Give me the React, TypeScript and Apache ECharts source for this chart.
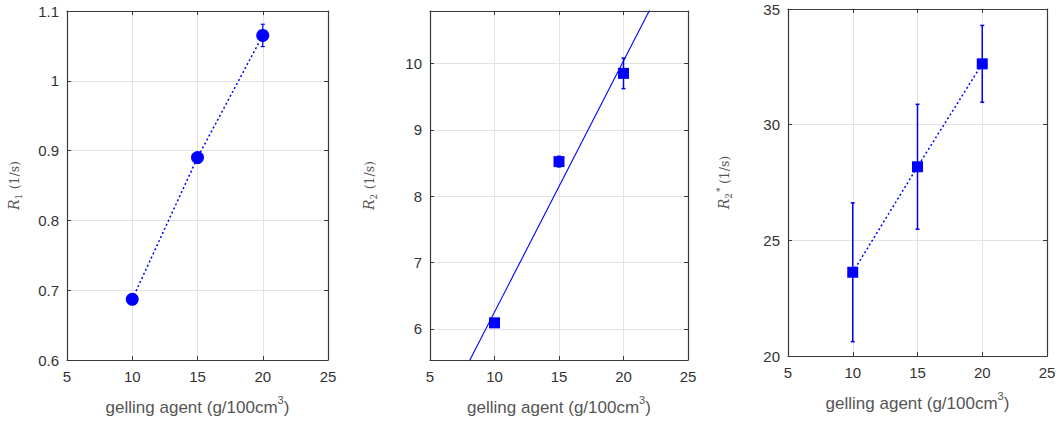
import React, { useEffect, useRef } from "react";
import * as echarts from "echarts";

const xValues = [10, 15, 20];
const xTicks = [5, 25, 5]; // min, max, interval

const r1Values = [0.687, 0.89, 1.065];
const r1Errors = [0.004, 0.005, 0.016];

const r2Values = [6.09, 8.52, 9.85];
const r2Errors = [0.02, 0.08, 0.23];
const r2FitLine = [
  [5, 4.36],
  [25, 11.93],
];

const r2StarValues = [23.62, 28.18, 32.63];
const r2StarErrors = [3.0, 2.7, 1.66];

const BLUE = "#0000ff";
const TICK_FONT = "'Liberation Sans', Arial, sans-serif";

const grids = [
  { left: 67, top: 11, width: 261, height: 350 },
  { left: 430, top: 11, width: 258, height: 349 },
  { left: 788, top: 9, width: 259, height: 347 },
];

function pairs(ys: number[]) {
  return xValues.map((x, i) => [x, ys[i]]);
}
function errData(ys: number[], es: number[]) {
  return xValues.map((x, i) => [x, ys[i] - es[i], ys[i] + es[i]]);
}

function errorSeries(idx: number, ys: number[], es: number[], cap: number, lw: number) {
  return {
    type: "custom",
    xAxisIndex: idx * 2,
    yAxisIndex: idx * 2,
    z: 1,
    data: errData(ys, es),
    renderItem: (params: any, api: any) => {
      const lo = api.coord([api.value(0), api.value(1)]);
      const hi = api.coord([api.value(0), api.value(2)]);
      const style = { stroke: BLUE, lineWidth: lw };
      return {
        type: "group",
        children: [
          { type: "line", shape: { x1: lo[0], y1: lo[1], x2: hi[0], y2: hi[1] }, style },
          { type: "line", shape: { x1: lo[0] - cap, y1: lo[1], x2: lo[0] + cap, y2: lo[1] }, style },
          { type: "line", shape: { x1: hi[0] - cap, y1: hi[1], x2: hi[0] + cap, y2: hi[1] }, style },
        ],
      };
    },
  };
}

const nameRich = {
  r: { fontFamily: "'DejaVu Serif', 'Liberation Serif', serif", fontStyle: "italic", fontSize: 14, color: "#555", lineHeight: 18, verticalAlign: "middle" },
  sub: { fontFamily: "'DejaVu Serif', serif", fontSize: 9, color: "#555", lineHeight: 18, verticalAlign: "bottom", padding: [0, 1, 0, 0] },
  sup: { fontFamily: "'DejaVu Serif', serif", fontSize: 9, color: "#555", lineHeight: 18, verticalAlign: "top" },
  u: { fontFamily: "'DejaVu Serif', 'Liberation Serif', serif", fontSize: 12.5, color: "#555", lineHeight: 18, verticalAlign: "middle" },
};

const xNameRich = {
  t: { fontFamily: TICK_FONT, fontSize: 17, color: "#555", lineHeight: 22, verticalAlign: "bottom" },
  s: { fontFamily: TICK_FONT, fontSize: 11, color: "#555", lineHeight: 22, verticalAlign: "top" },
};

export default function App() {
  const ref = useRef<HTMLDivElement>(null);
  useEffect(() => {
    if (!ref.current) return;
    const chart = echarts.init(ref.current, undefined, { renderer: "svg" });

    const axisLine = { show: true, lineStyle: { color: "#3a3a3a", width: 1.2 } };
    const axisTick = { show: true, inside: true, length: 4, lineStyle: { color: "#3a3a3a" } };
    const splitLine = { show: true, lineStyle: { color: "#e3e3e3", width: 1 } };
    const axisLabelBase = { color: "#333", fontSize: 15, fontFamily: TICK_FONT };

    const xAxes: any[] = [];
    const yAxes: any[] = [];
    const yConf = [
      { min: 0.6, max: 1.1, interval: 0.1, name: "{r|R}{sub|1} {u|(1/s)}", gap: 44 },
      { min: 5.53, max: 10.79, interval: undefined, name: "{r|R}{sub|2} {u|(1/s)}", gap: 52 },
      { min: 20, max: 35, interval: 5, name: "{r|R}{sub|2}{sup|*} {u|(1/s)}", gap: 55 },
    ];
    grids.forEach((g, i) => {
      xAxes.push({
        type: "value",
        gridIndex: i,
        position: "bottom",
        min: xTicks[0],
        max: xTicks[1],
        interval: xTicks[2],
        axisLine,
        axisTick,
        splitLine,
        axisLabel: { ...axisLabelBase, margin: 9 },
        name: "{t|gelling agent (g/100cm}{s|3}{t|)}",
        nameLocation: "middle",
        nameGap: 34,
        nameTextStyle: { rich: xNameRich },
      });
      xAxes.push({
        type: "value",
        gridIndex: i,
        position: "top",
        min: xTicks[0],
        max: xTicks[1],
        interval: xTicks[2],
        axisLine,
        axisTick,
        splitLine: { show: false },
        axisLabel: { show: false },
      });
      const yc = yConf[i];
      const yBase: any = {
        type: "value",
        gridIndex: i,
        min: yc.min,
        max: yc.max,
      };
      if (yc.interval !== undefined) yBase.interval = yc.interval;
      else yBase.splitNumber = 5;
      yAxes.push({
        ...yBase,
        position: "left",
        axisLine,
        axisTick,
        splitLine,
        axisLabel: {
          ...axisLabelBase,
          margin: 8,
          showMinLabel: yc.interval !== undefined,
          showMaxLabel: yc.interval !== undefined,
          formatter: (v: number) => {
            if (yc.interval === undefined && Math.abs(v - Math.round(v)) > 1e-6) return "";
            return String(Math.round(v * 1000) / 1000);
          },
        },
        name: yc.name,
        nameLocation: "middle",
        nameRotate: 90,
        nameGap: yc.gap,
        nameTextStyle: { rich: nameRich },
      });
      yAxes.push({
        ...yBase,
        position: "right",
        axisLine,
        axisTick,
        splitLine: { show: false },
        axisLabel: { show: false },
      });
    });

    chart.setOption({
      animation: false,
      grid: grids.map((g) => ({ ...g, containLabel: false })),
      xAxis: xAxes,
      yAxis: yAxes,
      series: [
        errorSeries(0, r1Values, r1Errors, 2, 1.2),
        {
          type: "line",
          xAxisIndex: 0,
          yAxisIndex: 0,
          z: 3,
          data: pairs(r1Values),
          symbol: "circle",
          symbolSize: 13,
          itemStyle: { color: BLUE, opacity: 1 },
          lineStyle: { color: BLUE, width: 1.5, type: [2, 2.5] },
        },
        errorSeries(1, r2Values, r2Errors, 2, 1.5),
        {
          type: "line",
          xAxisIndex: 2,
          yAxisIndex: 2,
          z: 2,
          data: r2FitLine,
          symbol: "none",
          clip: true,
          lineStyle: { color: BLUE, width: 1.1 },
        },
        {
          type: "scatter",
          xAxisIndex: 2,
          yAxisIndex: 2,
          z: 3,
          data: pairs(r2Values),
          symbol: "rect",
          symbolSize: 11,
          itemStyle: { color: BLUE, opacity: 1 },
        },
        errorSeries(2, r2StarValues, r2StarErrors, 2, 1.5),
        {
          type: "line",
          xAxisIndex: 4,
          yAxisIndex: 4,
          z: 3,
          data: pairs(r2StarValues),
          symbol: "rect",
          symbolSize: 11,
          itemStyle: { color: BLUE, opacity: 1 },
          lineStyle: { color: BLUE, width: 1.5, type: [2, 2.5] },
        },
      ],
    });
    return () => chart.dispose();
  }, []);
  return (
    <div
      ref={ref}
      style={{ position: "fixed", left: 0, top: 0, width: 1064, height: 421, background: "#fff" }}
    />
  );
}
